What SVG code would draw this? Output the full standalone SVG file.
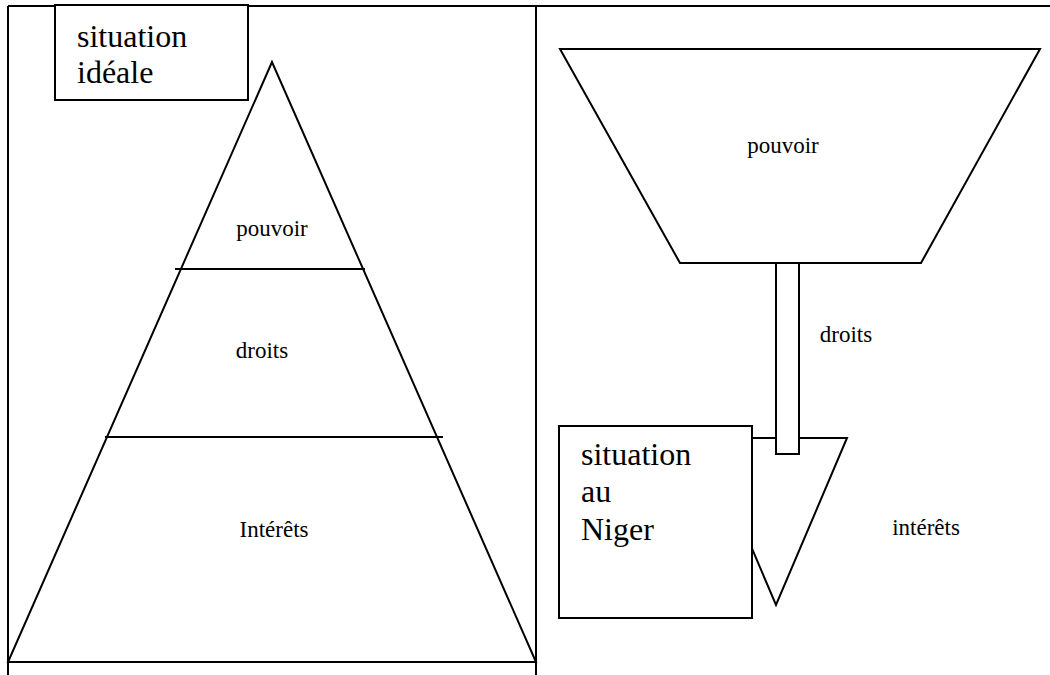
<svg xmlns="http://www.w3.org/2000/svg" width="1050" height="675" viewBox="0 0 1050 675">
<style>
.s{fill:none;stroke:#000;stroke-width:2}
.w{fill:#fff;stroke:#000;stroke-width:2}
.big{font-family:"Liberation Serif","Times New Roman",serif;font-size:32px;fill:#000}
.sm{font-family:"Liberation Serif","Times New Roman",serif;font-size:23px;fill:#000;text-anchor:middle}
</style>
<rect width="1050" height="675" fill="#fff"/>
<g id="frame">
<line class="s" x1="8" y1="6" x2="1050" y2="6"/>
<line class="s" x1="8" y1="6" x2="8" y2="675"/>
<line class="s" x1="536" y1="6" x2="536" y2="675"/>
</g>
<g id="pyramid">
<polygon class="s" points="272,62 8,662 536,662"/>
<line class="s" x1="175" y1="269" x2="365" y2="269"/>
<line class="s" x1="105" y1="437" x2="443" y2="437"/>
<text class="sm" x="272" y="236">pouvoir</text>
<text class="sm" x="262" y="358">droits</text>
<text class="sm" x="274" y="537">Intérêts</text>
</g>
<g id="label-ideale">
<rect class="w" x="55" y="5" width="193" height="95"/>
<text class="big" x="77" y="47">situation</text>
<text class="big" x="77" y="83">idéale</text>
</g>
<g id="pouvoir-niger">
<polygon class="s" points="560,49 1040,49 921,263 680,263"/>
<text class="sm" x="783" y="153">pouvoir</text>
</g>
<g id="interets-niger">
<polygon class="w" points="705,438 847,438 776,605"/>
<text class="sm" x="926" y="535">intérêts</text>
</g>
<g id="droits-niger">
<rect class="w" x="776" y="263" width="23" height="191"/>
<text class="sm" x="846" y="342">droits</text>
</g>
<g id="label-niger">
<rect class="w" x="559" y="426" width="193" height="192"/>
<text class="big" x="581" y="465">situation</text>
<text class="big" x="581" y="502">au</text>
<text class="big" x="581" y="540">Niger</text>
</g>
</svg>
